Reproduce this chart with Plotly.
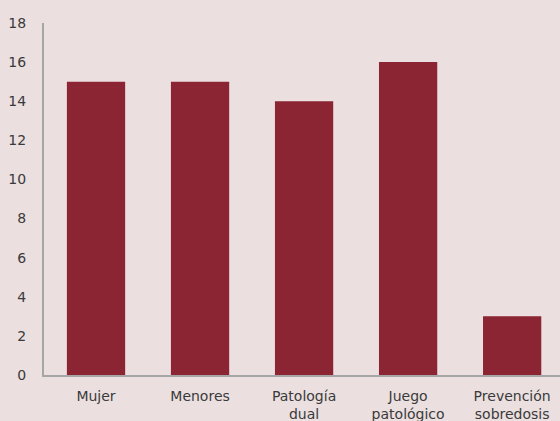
import plotly.graph_objects as go

categories = ["Mujer", "Menores", "Patología<br>dual", "Juego<br>patológico", "Prevención<br>sobredosis"]
values = [15, 15, 14, 16, 3]
y_ticks = [0, 2, 4, 6, 8, 10, 12, 14, 16, 18]

bg = "#ebdfe0"
fig = go.Figure(go.Bar(x=categories, y=values, marker=dict(color="#8b2433", line=dict(width=0)), width=0.56))
fig.update_layout(
    width=560, height=421,
    margin=dict(l=44, r=0, t=23, b=46),
    paper_bgcolor=bg, plot_bgcolor=bg,
    font=dict(family="DejaVu Sans, sans-serif", size=14, color="#3a3a3a"),
    showlegend=False,
)
fig.update_xaxes(range=[-0.5, 4.46], showline=True, linecolor="#a6a6a6", linewidth=2,
                 showgrid=False, ticks="", ticklabelstandoff=7, tickfont=dict(size=14))
fig.update_yaxes(range=[0, 18], tickvals=y_ticks, showline=True, linecolor="#a6a6a6", linewidth=2,
                 showgrid=False, zeroline=False, ticks="", ticklabelstandoff=13, tickfont=dict(size=14))
fig.write_html("out.html", config={"displayModeBar": False},
               post_script="document.body.style.margin='0';document.body.style.overflow='hidden';")
